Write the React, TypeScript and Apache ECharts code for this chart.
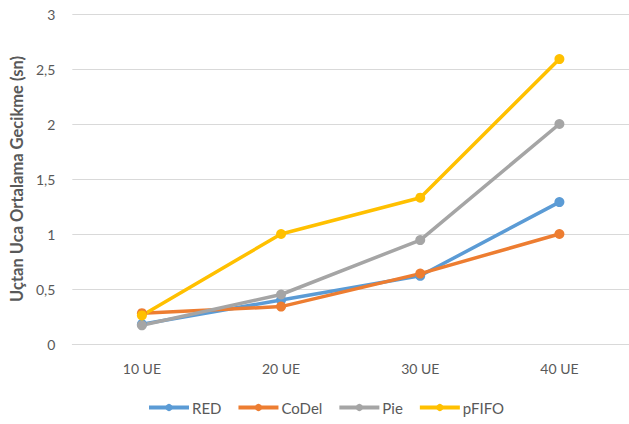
import React, { useEffect, useRef } from "react";
import * as echarts from "echarts";

const categories = ["10 UE", "20 UE", "30 UE", "40 UE"];
const seriesNames = ["RED", "CoDel", "Pie", "pFIFO"];
const redValues = [0.18, 0.4, 0.62, 1.29];
const codelValues = [0.28, 0.34, 0.64, 1.0];
const pieValues = [0.17, 0.45, 0.945, 2.0];
const pfifoValues = [0.26, 1.0, 1.33, 2.59];
const seriesColors = ["#5B9BD5", "#ED7D31", "#A5A5A5", "#FFC000"];
const yTicks = { min: 0, max: 3, interval: 0.5 };

const FONT = "Lato, 'Open Sans', sans-serif";
const TEXT = "#595959";

export default function App() {
  const ref = useRef<HTMLDivElement>(null);

  useEffect(() => {
    if (!ref.current) return;
    const chart = echarts.init(ref.current, undefined, { renderer: "svg" });
    const values = [redValues, codelValues, pieValues, pfifoValues];
    chart.setOption({
      animation: false,
      backgroundColor: "#FFFFFF",
      textStyle: { fontFamily: FONT },
      grid: { left: 65, right: 0, top: 14, bottom: 80 },
      legend: {
        bottom: 4,
        left: 142,
        itemWidth: 40,
        itemHeight: 9,
        itemGap: 15,
        lineStyle: { width: 4 },
        textStyle: { color: TEXT, fontSize: 15, fontFamily: FONT, padding: [0, 0, 0, -2] },
        data: seriesNames,
      },
      xAxis: {
        type: "category",
        data: categories,
        boundaryGap: true,
        axisLine: { lineStyle: { color: "#D9D9D9", width: 1 } },
        axisTick: { show: false },
        axisLabel: { color: TEXT, fontSize: 14, margin: 17, fontFamily: FONT },
      },
      yAxis: {
        type: "value",
        min: yTicks.min,
        max: yTicks.max,
        interval: yTicks.interval,
        axisLine: { show: false },
        axisTick: { show: false },
        splitLine: { lineStyle: { color: "#D9D9D9", width: 1 } },
        axisLabel: {
          color: TEXT,
          fontSize: 14,
          margin: 17,
          fontFamily: FONT,
          formatter: (v: number) => String(v).replace(".", ","),
        },
        name: "Uçtan Uca Ortalama Gecikme (sn)",
        nameLocation: "middle",
        nameGap: 43,
        nameTextStyle: { color: TEXT, fontSize: 16.5, fontWeight: "bold", fontFamily: FONT },
      },
      series: seriesNames.map((name, i) => ({
        name,
        type: "line",
        data: values[i],
        color: seriesColors[i],
        symbol: "circle",
        symbolSize: 10,
        lineStyle: { width: 3.5, color: seriesColors[i] },
        itemStyle: { color: seriesColors[i] },
      })),
    });
    return () => chart.dispose();
  }, []);

  return (
    <div
      ref={ref}
      style={{ position: "fixed", left: 0, top: 0, width: 629, height: 424 }}
    />
  );
}
